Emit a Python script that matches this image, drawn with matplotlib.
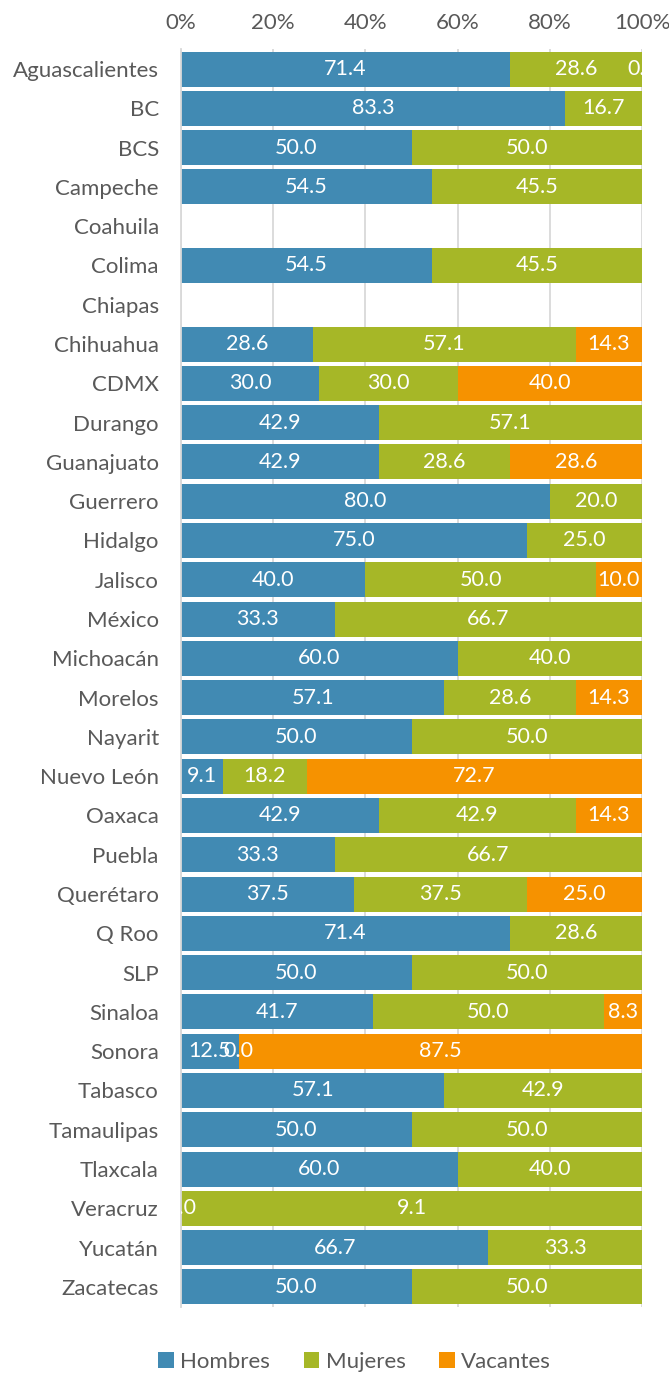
import matplotlib.pyplot as plt
import numpy as np

plt.rcParams['font.family'] = ['Lato', 'DejaVu Sans']

estados = ["Aguascalientes", "BC", "BCS", "Campeche", "Coahuila", "Colima", "Chiapas",
           "Chihuahua", "CDMX", "Durango", "Guanajuato", "Guerrero", "Hidalgo", "Jalisco",
           "México", "Michoacán", "Morelos", "Nayarit", "Nuevo León", "Oaxaca", "Puebla",
           "Querétaro", "Q Roo", "SLP", "Sinaloa", "Sonora", "Tabasco", "Tamaulipas",
           "Tlaxcala", "Veracruz", "Yucatán", "Zacatecas"]
nan = np.nan
hombres = [71.4, 83.3, 50.0, 54.5, nan, 54.5, nan, 28.6, 30.0, 42.9, 42.9, 80.0, 75.0, 40.0,
           33.3, 60.0, 57.1, 50.0, 9.1, 42.9, 33.3, 37.5, 71.4, 50.0, 41.7, 12.5, 57.1, 50.0,
           60.0, 0.0, 66.7, 50.0]
mujeres = [28.6, 16.7, 50.0, 45.5, nan, 45.5, nan, 57.1, 30.0, 57.1, 28.6, 20.0, 25.0, 50.0,
           66.7, 40.0, 28.6, 50.0, 18.2, 42.9, 66.7, 37.5, 28.6, 50.0, 50.0, 0.0, 42.9, 50.0,
           40.0, 9.1, 33.3, 50.0]
vacantes = [0.0, nan, nan, nan, nan, nan, nan, 14.3, 40.0, nan, 28.6, nan, nan, 10.0,
            nan, nan, 14.3, nan, 72.7, 14.3, nan, 25.0, nan, nan, 8.3, 87.5, nan, nan,
            nan, nan, nan, nan]

series = [("Hombres", hombres, "#418AB3"),
          ("Mujeres", mujeres, "#A6B727"),
          ("Vacantes", vacantes, "#F69200")]

datos = np.array([hombres, mujeres, vacantes])
total = np.nansum(datos, axis=0)
total[total == 0] = 1

fig = plt.figure(figsize=(6.69, 13.73), dpi=100)
ax = fig.add_axes([0.2706, 0.0484, 0.689, 0.9156])

y = np.arange(len(estados))
izq = np.zeros(len(estados))
for nombre, vals, color in series:
    v = np.array(vals, dtype=float)
    pct = np.nan_to_num(v) / total * 100
    ax.barh(y, pct, left=izq, height=0.89, color=color, label=nombre, zorder=2)
    for i in range(len(estados)):
        if not np.isnan(v[i]):
            ax.text(izq[i] + pct[i] / 2, y[i], f"{v[i]:.1f}", ha="center", va="center",
                    color="white", fontsize=15.5, clip_on=True, zorder=3)
    izq = izq + pct

ax.set_xlim(0, 100)
ax.set_ylim(len(estados) - 0.5, -0.5)
ax.set_yticks(y)
ax.set_yticklabels(estados)
ax.set_xticks([0, 20, 40, 60, 80, 100])
ax.set_xticklabels(["0%", "20%", "40%", "60%", "80%", "100%"])
ax.xaxis.tick_top()
ax.tick_params(axis="both", length=0, labelsize=16, labelcolor="#595959")
ax.tick_params(axis="x", pad=12)
ax.tick_params(axis="y", pad=16)
ax.grid(axis="x", color="#D9D9D9", linewidth=1.3, zorder=0)
for s in ["top", "right", "bottom"]:
    ax.spines[s].set_visible(False)
ax.spines["left"].set_color("#D9D9D9")
ax.spines["left"].set_linewidth(1.3)

fig.legend(loc="center", bbox_to_anchor=(0.53, 0.008), ncol=3, frameon=False,
           fontsize=16, labelcolor="#595959", handlelength=0.7, handleheight=0.7,
           handletextpad=0.3, columnspacing=1.5)

fig.savefig("out.png", dpi=100)
